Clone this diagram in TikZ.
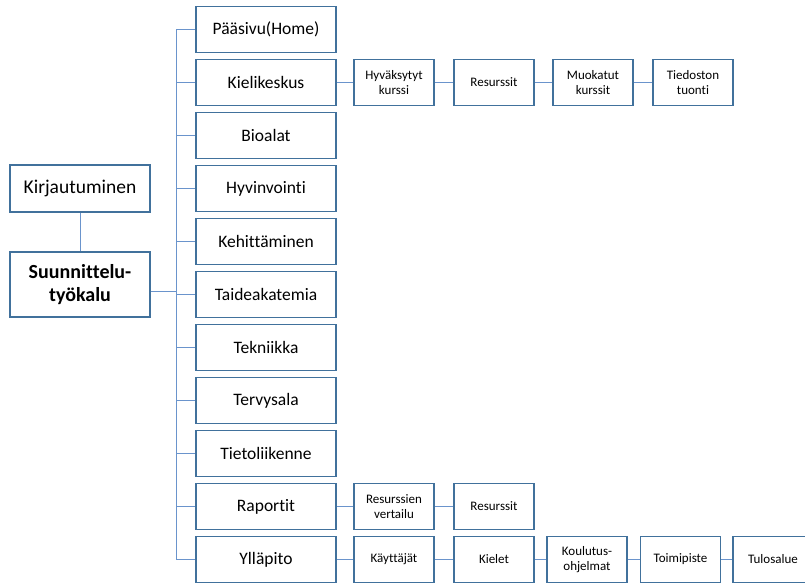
\documentclass[tikz,border=0pt]{standalone}
\usepackage{fontspec}
\setmainfont[Ligatures=NoCommon]{Carlito}
\definecolor{boxline}{HTML}{41719C}
\definecolor{linkline}{HTML}{6A94CC}
\begin{document}
\begin{tikzpicture}[x=1pt,y=-1pt,
  box/.style={draw=boxline,line width=1.3pt,fill=white,inner sep=0pt,align=center},
  mainbox/.style={box,minimum width=140pt,minimum height=46.5pt,font=\fontsize{17.5}{20}\selectfont},
  subbox/.style={box,minimum width=80pt,minimum height=46pt,font=\fontsize{13}{15.5}\selectfont},
  link/.style={draw=linkline,line width=1pt}]
\useasboundingbox (0,0) rectangle (805,583);

% left column
\node[box,minimum width=140pt,minimum height=47pt,font=\fontsize{19.5}{22}\selectfont] (login) at (80,188.5) {Kirjautuminen};
\node[box,minimum width=140pt,minimum height=65pt,font=\fontsize{20}{22.5}\selectfont\bfseries] (tool) at (80,284.5) {Suunnittelu-\\työkalu};
\draw[link] (login) -- (tool);

% trunk
\coordinate (ttop) at (176,29.5);
\coordinate (tbot) at (176,559.5);
\coordinate (tj) at (176,291);
\draw[link] (ttop) -- (tbot);
\draw[link] (tool.east |- tj) -- (tj);

% main sections
\foreach \name/\txt [count=\i from 0] in {
  home/Pääsivu(Home), kieli/Kielikeskus, bio/Bioalat, hyv/Hyvinvointi,
  keh/Kehittäminen, taide/Taideakatemia, tek/Tekniikka, terv/Tervysala,
  tieto/Tietoliikenne, rap/Raportit, yll/Ylläpito}{
  \node[mainbox] (\name) at (266,29.5+53*\i) {\txt};
  \draw[link] (ttop |- \name.west) -- (\name.west);
}

% Kielikeskus chain
\node[subbox] (k1) at (394,82.5) {Hyväksytyt\\kurssi};
\node[subbox] (k2) at (494,82.5) {Resurssit};
\node[subbox] (k3) at (593,82.5) {Muokatut\\kurssit};
\node[subbox] (k4) at (693,82.5) {Tiedoston\\tuonti};
\draw[link] (kieli) -- (k1) (k1) -- (k2) (k2) -- (k3) (k3) -- (k4);

% Raportit chain
\node[subbox] (r1) at (394,506.5) {Resurssien\\vertailu};
\node[subbox] (r2) at (494,506.5) {Resurssit};
\draw[link] (rap) -- (r1) (r1) -- (r2);

% Ylläpito chain
\node[subbox] (y1) at (394,559.5) {Käyttäjät};
\node[subbox] (y2) at (494,559.5) {Kielet};
\node[subbox] (y3) at (587,559.5) {Koulutus-\\ohjelmat};
\node[subbox] (y4) at (680.5,559.5) {Toimipiste};
\node[subbox] (y5) at (773,559.5) {Tulosalue};
\draw[link] (yll) -- (y1) (y1) -- (y2) (y2) -- (y3) (y3) -- (y4) (y4) -- (y5);
\end{tikzpicture}
\end{document}
